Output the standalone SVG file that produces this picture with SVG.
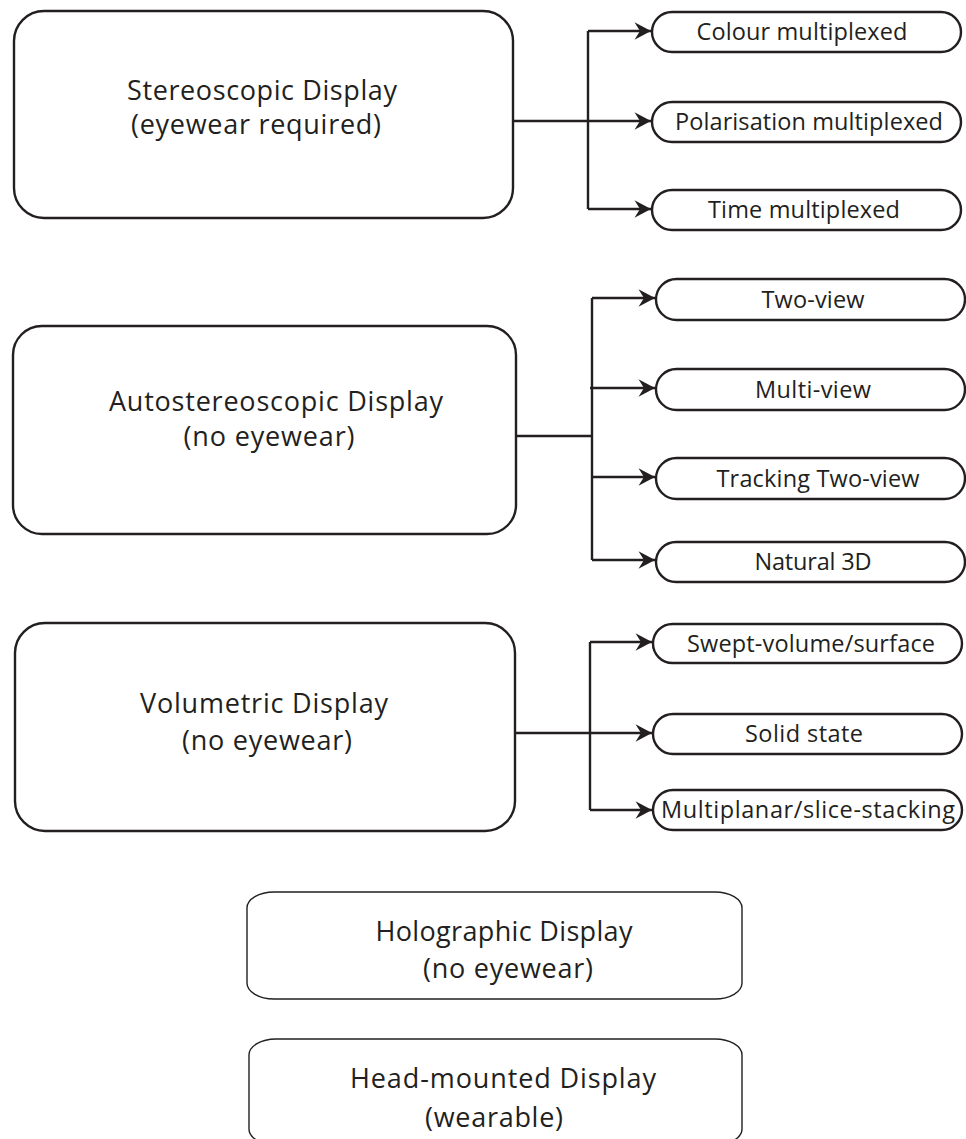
<svg xmlns="http://www.w3.org/2000/svg" width="966" height="1139" viewBox="0 0 966 1139">
<style>
.box{fill:#fff;stroke:#231f20;stroke-width:2.4}
.thin{fill:#fff;stroke:#231f20;stroke-width:1.4}
.pill{fill:#fff;stroke:#231f20;stroke-width:2.4}
.big{font-family:"Open Sans","Noto Sans",sans-serif;font-size:27px;fill:#231f20;text-anchor:middle}
.sm{font-family:"Open Sans","Noto Sans",sans-serif;font-size:23.5px;fill:#231f20;text-anchor:middle}
.ln{fill:none;stroke:#231f20;stroke-width:2.4}
</style>
<defs>
<marker id="ah" markerUnits="userSpaceOnUse" markerWidth="22" markerHeight="22" viewBox="-18 -10 20 20" refX="0" refY="0" orient="auto">
<path d="M0,0 L-15,-8 L-10,0 L-15,8 Z" fill="#231f20"/>
</marker>
</defs>
<rect width="966" height="1139" fill="#fff"/>
<g id="connectors">
<path class="ln" d="M513,121 H588 M588,31 V209"/>
<path class="ln" d="M588,31 H651" marker-end="url(#ah)"/>
<path class="ln" d="M588,121 H651" marker-end="url(#ah)"/>
<path class="ln" d="M588,209 H651" marker-end="url(#ah)"/>
<path class="ln" d="M516,436 H592 M592,298 V560"/>
<path class="ln" d="M592,298 H655" marker-end="url(#ah)"/>
<path class="ln" d="M590,388 H655" marker-end="url(#ah)"/>
<path class="ln" d="M592,477 H655" marker-end="url(#ah)"/>
<path class="ln" d="M592,560 H655" marker-end="url(#ah)"/>
<path class="ln" d="M514,733 H590 M590,642 V810"/>
<path class="ln" d="M590,642 H652" marker-end="url(#ah)"/>
<path class="ln" d="M590,733 H652" marker-end="url(#ah)"/>
<path class="ln" d="M590,810 H652" marker-end="url(#ah)"/>
</g>
<g id="stereoscopic">
<rect class="box" x="14" y="11" width="499" height="207" rx="30"/>
<text class="big" x="262" y="100" textLength="270">Stereoscopic Display</text>
<text class="big" x="256" y="134" textLength="250">(eyewear required)</text>
</g>
<g id="colour"><rect class="pill" x="652" y="12" width="309" height="40" rx="20"/><text class="sm" x="802" y="40" textLength="211">Colour multiplexed</text></g>
<g id="polarisation"><rect class="pill" x="652" y="102" width="309" height="40" rx="20"/><text class="sm" x="809" y="130" textLength="268">Polarisation multiplexed</text></g>
<g id="time"><rect class="pill" x="652" y="190" width="309" height="40" rx="20"/><text class="sm" x="804" y="218" textLength="192">Time multiplexed</text></g>
<g id="autostereoscopic">
<rect class="box" x="13" y="326" width="503" height="208" rx="29"/>
<text class="big" x="276" y="411" textLength="334">Autostereoscopic Display</text>
<text class="big" x="269" y="446" textLength="171">(no eyewear)</text>
</g>
<g id="twoview"><rect class="pill" x="656" y="279" width="309" height="41" rx="20.5"/><text class="sm" x="813" y="308" textLength="103">Two-view</text></g>
<g id="multiview"><rect class="pill" x="656" y="369" width="309" height="41" rx="20.5"/><text class="sm" x="813" y="398" textLength="116">Multi-view</text></g>
<g id="tracking"><rect class="pill" x="656" y="458" width="309" height="41" rx="20.5"/><text class="sm" x="818" y="487" textLength="203">Tracking Two-view</text></g>
<g id="natural"><rect class="pill" x="656" y="542" width="309" height="40" rx="20"/><text class="sm" x="813" y="570" textLength="117">Natural 3D</text></g>
<g id="volumetric">
<rect class="box" x="15" y="623" width="500" height="208" rx="30"/>
<text class="big" x="264" y="713" textLength="248">Volumetric Display</text>
<text class="big" x="267" y="750" textLength="170">(no eyewear)</text>
</g>
<g id="swept"><rect class="pill" x="653" y="624" width="309" height="39" rx="19.5"/><text class="sm" x="811" y="652" textLength="248">Swept-volume/surface</text></g>
<g id="solid"><rect class="pill" x="653" y="714" width="309" height="40" rx="20"/><text class="sm" x="804" y="742" textLength="118">Solid state</text></g>
<g id="multiplanar"><rect class="pill" x="653" y="790" width="309" height="40" rx="20"/><text class="sm" x="808" y="818" textLength="294">Multiplanar/slice-stacking</text></g>
<g id="holographic">
<rect class="thin" x="247" y="892" width="495" height="107" rx="27" ry="16"/>
<text class="big" x="504" y="941" textLength="257">Holographic Display</text>
<text class="big" x="508" y="978" textLength="170">(no eyewear)</text>
</g>
<g id="headmounted">
<rect class="thin" x="249" y="1039" width="493" height="106" rx="27" ry="16"/>
<text class="big" x="503" y="1088" textLength="306">Head-mounted Display</text>
<text class="big" x="494" y="1127" textLength="138">(wearable)</text>
</g>
</svg>
